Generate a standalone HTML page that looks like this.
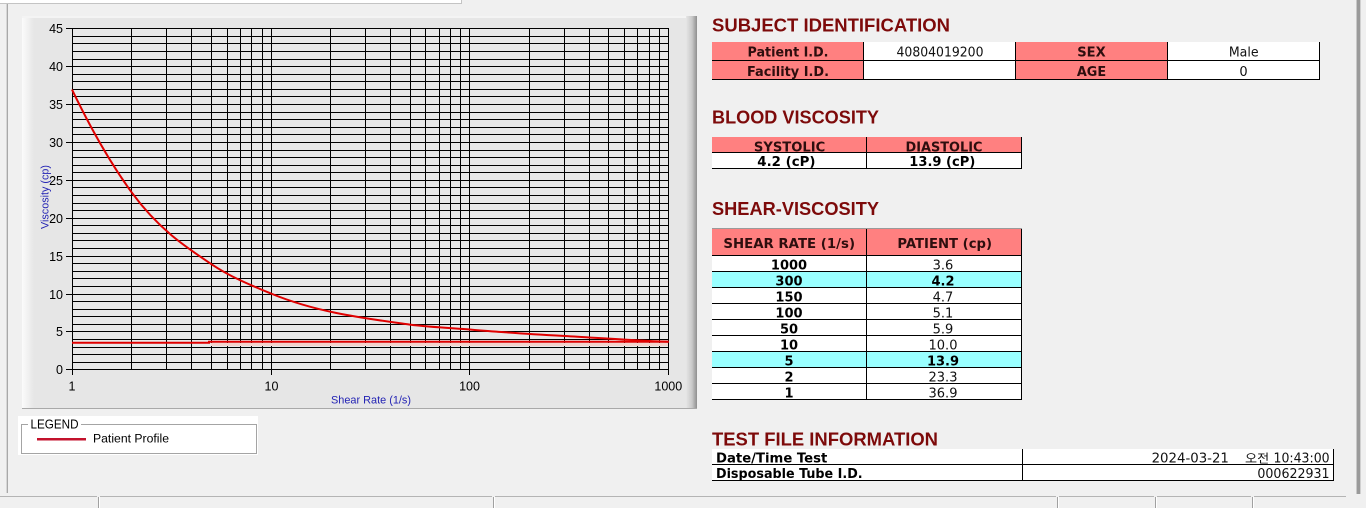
<!DOCTYPE html>
<html><head><meta charset="utf-8"><style>
html,body{margin:0;padding:0;background:#f0f0f0;width:1366px;height:508px;overflow:hidden}
svg{display:block}
.tk{font-family:"Liberation Sans",sans-serif;font-size:12.5px;fill:#000}
.ax{font-family:"Liberation Sans",sans-serif;font-size:11px;fill:#2323b4}
.h{font-family:"Liberation Sans",sans-serif;font-weight:bold;font-size:18px;fill:#7d0a0a}
.lb{font-family:"DejaVu Sans",sans-serif;font-weight:bold;font-size:13px;fill:#2e0e0e}
.bk{font-family:"DejaVu Sans",sans-serif;font-weight:bold;font-size:13px;fill:#000}
.v{font-family:"DejaVu Sans",sans-serif;font-size:13px;fill:#111}
.kr{font-family:"DejaVu Sans","Noto Sans CJK KR",sans-serif;font-size:12px;fill:#111}
</style></head><body>
<svg width="1366" height="508" viewBox="0 0 1366 508" xmlns="http://www.w3.org/2000/svg">
<defs>
<linearGradient id="lg" x1="0" x2="1" y1="0" y2="0"><stop offset="0" stop-color="#fbfbfb"/><stop offset="1" stop-color="#e6e6e6"/></linearGradient>
<linearGradient id="rg" x1="0" x2="1" y1="0" y2="0"><stop offset="0" stop-color="#e6e6e6"/><stop offset="0.55" stop-color="#c8c8c8"/><stop offset="1" stop-color="#8e8e8e"/></linearGradient>
</defs>
<rect width="1366" height="508" fill="#f0f0f0"/>
<!-- top strip -->
<rect x="0" y="0" width="461" height="3" fill="#ffffff"/>
<path d="M0 3.5H461.5V0" stroke="#c4c4c4" fill="none" shape-rendering="crispEdges"/>
<!-- frame lines -->
<rect x="6" y="4" width="1" height="489" fill="#d6d6d6"/>
<rect x="7" y="4" width="1" height="489" fill="#a8a8a8"/>
<rect x="1356" y="0" width="1" height="494" fill="#c8c8c8"/>
<rect x="1357" y="0" width="3" height="494" fill="#9a9a9a"/>
<rect x="1360" y="0" width="1" height="494" fill="#d0d0d0"/>

<!-- chart panel -->
<rect x="22" y="16" width="675" height="393" fill="#e6e6e6"/>
<rect x="22" y="16" width="12" height="393" fill="url(#lg)"/>
<rect x="22" y="16" width="675" height="2" fill="#f4f4f4"/>
<rect x="686" y="16" width="11" height="393" fill="url(#rg)"/>
<rect x="22" y="408" width="675" height="1" fill="#a9a9a9"/>

<!-- plot area -->
<rect x="72" y="28" width="597" height="342" fill="#e8e8e8"/>
<g stroke="#000" stroke-width="1" fill="none" shape-rendering="crispEdges">
<path d="M72 28.5H669M72 36.5H669M72 43.5H669M72 51.5H669M72 59.5H669M72 66.5H669M72 74.5H669M72 81.5H669M72 89.5H669M72 96.5H669M72 104.5H669M72 112.5H669M72 119.5H669M72 127.5H669M72 134.5H669M72 142.5H669M72 150.5H669M72 157.5H669M72 165.5H669M72 172.5H669M72 180.5H669M72 187.5H669M72 195.5H669M72 203.5H669M72 210.5H669M72 218.5H669M72 225.5H669M72 233.5H669M72 240.5H669M72 248.5H669M72 256.5H669M72 263.5H669M72 271.5H669M72 278.5H669M72 286.5H669M72 294.5H669M72 301.5H669M72 309.5H669M72 316.5H669M72 324.5H669M72 331.5H669M72 339.5H669M72 347.5H669M72 354.5H669M72 362.5H669M72 369.5H669"/>
<path d="M72.5 28V370M131.5 28V370M166.5 28V370M191.5 28V370M211.5 28V370M227.5 28V370M240.5 28V370M251.5 28V370M262.5 28V370M271.5 28V370M330.5 28V370M365.5 28V370M390.5 28V370M410.5 28V370M425.5 28V370M439.5 28V370M450.5 28V370M460.5 28V370M469.5 28V370M529.5 28V370M564.5 28V370M589.5 28V370M608.5 28V370M624.5 28V370M637.5 28V370M649.5 28V370M659.5 28V370M668.5 28V370"/>
<!-- y ticks -->
<path d="M66 28.5H72M66 66.5H72M66 104.5H72M66 142.5H72M66 180.5H72M66 218.5H72M66 256.5H72M66 294.5H72M66 331.5H72M66 369.5H72"/>
<!-- x ticks -->
<path d="M72.5 370V375M271.5 370V375M469.5 370V375M668.5 370V375"/>
</g>

<!-- series -->
<rect x="211" y="343" width="457" height="3" fill="#f3d3cd"/>
<path d="M72 342.7H209V341.7H668.7" stroke="#e00000" stroke-width="2" fill="none"/>
<path d="M72,89.6 C91.97,131.0 111.93,165.4 131.9,192.7 C158.27,228.75 184.63,246.26 211.0,263.9 C230.97,277.26 250.93,285.26 270.9,293.5 C317.2,312.6 363.6,318.2 409.9,324.6 C429.87,327.0 449.83,328.0 469.8,329.5 C481.47,330.6 493.13,331.4 504.8,332.3 C524.77,333.9 544.73,335.0 564.7,336.0 C599.37,338.0 634.03,340.6 668.7,341.8" stroke="#e00000" stroke-width="2" fill="none"/>

<!-- tick labels -->
<g class="tk" text-anchor="end">
<text x="63" y="33">45</text>
<text x="63" y="71">40</text>
<text x="63" y="109">35</text>
<text x="63" y="147">30</text>
<text x="63" y="185">25</text>
<text x="63" y="223">20</text>
<text x="63" y="261">15</text>
<text x="63" y="299">10</text>
<text x="63" y="336">5</text>
<text x="63" y="374">0</text>
</g>
<g class="tk" text-anchor="middle">
<text x="72" y="390.5">1</text>
<text x="271.5" y="390.5">10</text>
<text x="469.5" y="390.5">100</text>
<text x="668.3" y="390.5">1000</text>
</g>
<text class="ax" x="371" y="403.7" text-anchor="middle" textLength="80" lengthAdjust="spacingAndGlyphs">Shear Rate (1/s)</text>
<text class="ax" transform="translate(48.5,197) rotate(-90)" x="0" y="0" text-anchor="middle" textLength="64" lengthAdjust="spacingAndGlyphs">Viscosity (cp)</text>

<!-- legend -->
<rect x="18" y="416" width="240" height="39" fill="#ffffff"/>
<rect x="21.5" y="424.5" width="235" height="29" fill="#ffffff" stroke="#a4a4a4" shape-rendering="crispEdges"/>
<rect x="28" y="416" width="53" height="14" fill="#ffffff"/>
<text x="30.5" y="428.5" font-family="Liberation Sans, sans-serif" font-size="12.5" fill="#000" textLength="48" lengthAdjust="spacingAndGlyphs">LEGEND</text>
<path d="M37 439.3H86" stroke="#c3122c" stroke-width="2.5"/>
<text x="93" y="442.5" font-family="Liberation Sans, sans-serif" font-size="12.3" fill="#000" textLength="76" lengthAdjust="spacingAndGlyphs">Patient Profile</text>

<!-- status bar -->
<g shape-rendering="crispEdges">
<path d="M0 496.5H97M100 496.5H492M495 496.5H1056M1059 496.5H1154M1157 496.5H1251M1254 496.5H1346" stroke="#b4b4b4"/>
<path d="M98.5 497V508M493.5 497V508M1057.5 497V508M1155.5 497V508M1252.5 497V508" stroke="#a0a0a0"/>
<path d="M99.5 497V508M494.5 497V508M1058.5 497V508M1156.5 497V508M1253.5 497V508" stroke="#ffffff"/>
</g>

<!-- SUBJECT IDENTIFICATION -->
<text class="h" x="712" y="31.5" textLength="238" lengthAdjust="spacingAndGlyphs">SUBJECT IDENTIFICATION</text>
<rect x="712" y="42" width="152" height="38" fill="#ff8080"/>
<rect x="864" y="42" width="152" height="38" fill="#ffffff"/>
<rect x="1016" y="42" width="152" height="38" fill="#ff8080"/>
<rect x="1168" y="42" width="152" height="38" fill="#ffffff"/>
<g stroke="#000" shape-rendering="crispEdges" fill="none">
<path d="M712 60.5H1320M712 79.5H1320M863.5 42V80M1015.5 42V80M1167.5 42V80M1319.5 42V80"/>
</g>
<text class="lb" x="788" y="56.5" text-anchor="middle" textLength="81" lengthAdjust="spacingAndGlyphs">Patient I.D.</text>
<text class="lb" x="788" y="75.8" text-anchor="middle" textLength="82" lengthAdjust="spacingAndGlyphs">Facility I.D.</text>
<text class="v" x="940" y="56.3" text-anchor="middle" textLength="87" lengthAdjust="spacingAndGlyphs">40804019200</text>
<text class="lb" x="1091.5" y="56.5" text-anchor="middle" textLength="28.5" lengthAdjust="spacingAndGlyphs">SEX</text>
<text class="lb" x="1091.5" y="75.8" text-anchor="middle" textLength="29.3" lengthAdjust="spacingAndGlyphs">AGE</text>
<text class="v" x="1243.7" y="56.5" text-anchor="middle" textLength="29.7" lengthAdjust="spacingAndGlyphs">Male</text>
<text class="v" x="1243.5" y="75.8" text-anchor="middle">0</text>

<!-- BLOOD VISCOSITY -->
<text class="h" x="712" y="123.3" textLength="167" lengthAdjust="spacingAndGlyphs">BLOOD VISCOSITY</text>
<rect x="712" y="137" width="310" height="16" fill="#ff8080"/>
<rect x="712" y="153" width="310" height="16" fill="#ffffff"/>
<g stroke="#000" shape-rendering="crispEdges" fill="none">
<path d="M712 152.5H1022M712 168.5H1022M866.5 137V169M1021.5 137V169"/>
</g>
<text class="lb" x="789.6" y="151.5" text-anchor="middle" textLength="71.4" lengthAdjust="spacingAndGlyphs">SYSTOLIC</text>
<text class="lb" x="944" y="151.5" text-anchor="middle" textLength="77" lengthAdjust="spacingAndGlyphs">DIASTOLIC</text>
<text class="bk" x="786.4" y="166" text-anchor="middle" textLength="58.2" lengthAdjust="spacingAndGlyphs">4.2 (cP)</text>
<text class="bk" x="942.3" y="166" text-anchor="middle" textLength="66" lengthAdjust="spacingAndGlyphs">13.9 (cP)</text>

<!-- SHEAR-VISCOSITY -->
<text class="h" x="712" y="215" textLength="167" lengthAdjust="spacingAndGlyphs">SHEAR-VISCOSITY</text>
<rect x="712" y="229" width="310" height="27" fill="#ff8080"/>
<rect x="712" y="256" width="310" height="144" fill="#ffffff"/>
<rect x="712" y="272" width="310" height="16" fill="#99ffff"/>
<rect x="712" y="352" width="310" height="16" fill="#99ffff"/>
<g shape-rendering="crispEdges" fill="none">
<path d="M712 228.5H1022" stroke="#9a9a9a"/>
<path stroke="#000" d="M712 255.5H1022M712 271.5H1022M712 287.5H1022M712 303.5H1022M712 319.5H1022M712 335.5H1022M712 351.5H1022M712 367.5H1022M712 383.5H1022M712 399.5H1022M866.5 229V400M1021.5 229V400"/>
</g>
<text class="lb" x="789.2" y="248" text-anchor="middle" textLength="131.7" lengthAdjust="spacingAndGlyphs">SHEAR RATE (1/s)</text>
<text class="lb" x="944.7" y="248" text-anchor="middle" textLength="94.7" lengthAdjust="spacingAndGlyphs">PATIENT (cp)</text>
<g class="bk" text-anchor="middle">
<text x="789" y="269.3">1000</text>
<text x="789" y="285.3">300</text>
<text x="789" y="301.3">150</text>
<text x="789" y="317.3">100</text>
<text x="789" y="333.3">50</text>
<text x="789" y="349.3">10</text>
<text x="789" y="365.3">5</text>
<text x="789" y="381.3">2</text>
<text x="789" y="397.3">1</text>
</g>
<g class="v" text-anchor="middle">
<text x="943" y="269.3">3.6</text>
<text x="943" y="301.3">4.7</text>
<text x="943" y="317.3">5.1</text>
<text x="943" y="333.3">5.9</text>
<text x="943" y="349.3">10.0</text>
<text x="943" y="381.3">23.3</text>
<text x="943" y="397.3">36.9</text>
</g>
<g class="bk" text-anchor="middle">
<text x="943" y="285.3">4.2</text>
<text x="943" y="365.3">13.9</text>
</g>

<!-- TEST FILE INFORMATION -->
<text class="h" x="712" y="445.5" textLength="226" lengthAdjust="spacingAndGlyphs">TEST FILE INFORMATION</text>
<rect x="712" y="449" width="622" height="32" fill="#ffffff"/>
<g stroke="#000" shape-rendering="crispEdges" fill="none">
<path d="M712 464.5H1334M712 480.5H1334M1022.5 449V481M1333.5 449V481"/>
</g>
<text class="bk" x="716" y="462.5" textLength="111.3" lengthAdjust="spacingAndGlyphs">Date/Time Test</text>
<text class="bk" x="716" y="478" textLength="146.6" lengthAdjust="spacingAndGlyphs">Disposable Tube I.D.</text>
<text class="v" x="1151.6" y="462.5" textLength="77.3" lengthAdjust="spacingAndGlyphs">2024-03-21</text>
<text class="kr" x="1245" y="462.5" textLength="24.2" lengthAdjust="spacingAndGlyphs">오전</text>
<text class="v" x="1273.5" y="462.5" textLength="56.1" lengthAdjust="spacingAndGlyphs">10:43:00</text>
<text class="v" x="1329.6" y="478" text-anchor="end" textLength="72.2" lengthAdjust="spacingAndGlyphs">000622931</text>
</svg>
</body></html>
